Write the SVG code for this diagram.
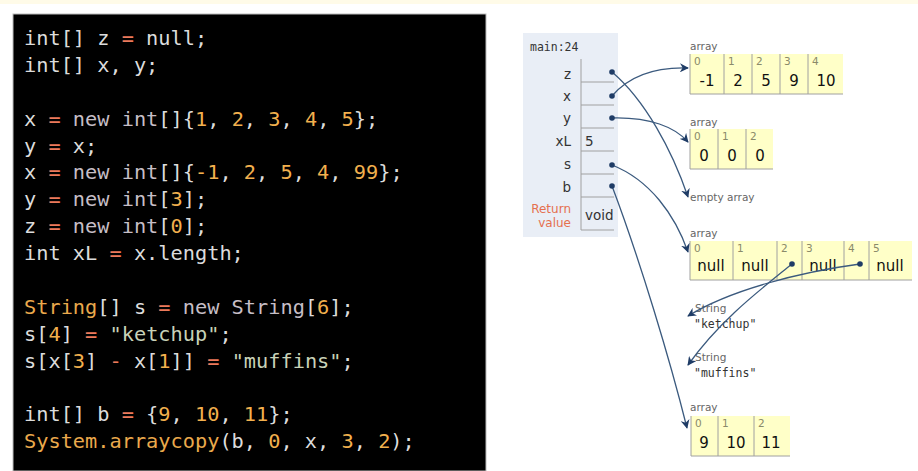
<svg xmlns="http://www.w3.org/2000/svg" width="918" height="471" viewBox="0 0 918 471">
<defs>
<marker id="ah" viewBox="0 0 10 10" refX="9" refY="5" markerWidth="9" markerHeight="9" markerUnits="userSpaceOnUse" orient="auto">
<path d="M0,0 L10,5 L0,10 L3,5 Z" fill="#1f3c66"/>
</marker>
<style>
.code{font-family:"DejaVu Sans Mono","Liberation Mono",monospace;font-size:20.3px;fill:#dcdcdc;white-space:pre}
.op{fill:#ec7a5c}
.kw{fill:#c6bec6}
.num{fill:#f2b04e}
.ty{fill:#eaa94c}
.str{fill:#c8d2b8}
.lbl{font-family:"DejaVu Sans",Verdana,sans-serif;font-size:13.5px;fill:#333}
.small{font-family:"DejaVu Sans",Verdana,sans-serif;font-size:10.5px;fill:#666}
.idx{font-family:"DejaVu Sans",Verdana,sans-serif;font-size:10.5px;fill:#8a8a6a}
.val{font-family:"DejaVu Sans",Verdana,sans-serif;font-size:15px;fill:#111;text-anchor:middle}
.mono{font-family:"DejaVu Sans Mono","Liberation Mono",monospace;font-size:11.5px;fill:#333}
.cell{fill:#ffffc8}
.bd{stroke:#a0a0a0;stroke-width:1;fill:none}
.conn{fill:none;stroke:#3b5a7e;stroke-width:1.3;marker-end:url(#ah)}
.dot{fill:#1f3c66}
</style>
</defs>
<rect x="0" y="0" width="918" height="471" fill="#ffffff"/>
<rect x="0" y="0" width="918" height="4" fill="#fffbe8"/>

<g id="code">
<rect x="13" y="14" width="473" height="457" fill="#000000" stroke="#bbbbbb" stroke-width="1"/>
<text class="code" x="24" y="45">int[] z <tspan class="op">=</tspan> null;</text>
<text class="code" x="24" y="72">int[] x, y;</text>
<text class="code" x="24" y="126">x <tspan class="op">=</tspan> <tspan class="kw">new int</tspan>[]{<tspan class="num">1</tspan>, <tspan class="num">2</tspan>, <tspan class="num">3</tspan>, <tspan class="num">4</tspan>, <tspan class="num">5</tspan>};</text>
<text class="code" x="24" y="153">y <tspan class="op">=</tspan> x;</text>
<text class="code" x="24" y="179">x <tspan class="op">=</tspan> <tspan class="kw">new int</tspan>[]{<tspan class="num">-1</tspan>, <tspan class="num">2</tspan>, <tspan class="num">5</tspan>, <tspan class="num">4</tspan>, <tspan class="num">99</tspan>};</text>
<text class="code" x="24" y="206">y <tspan class="op">=</tspan> <tspan class="kw">new int</tspan>[<tspan class="num">3</tspan>];</text>
<text class="code" x="24" y="233">z <tspan class="op">=</tspan> <tspan class="kw">new int</tspan>[<tspan class="num">0</tspan>];</text>
<text class="code" x="24" y="260">int xL <tspan class="op">=</tspan> x.length;</text>
<text class="code" x="24" y="314"><tspan class="ty">String</tspan>[] s <tspan class="op">=</tspan> <tspan class="kw">new String</tspan>[<tspan class="num">6</tspan>];</text>
<text class="code" x="24" y="341">s[<tspan class="num">4</tspan>] <tspan class="op">=</tspan> <tspan class="str">"ketchup"</tspan>;</text>
<text class="code" x="24" y="368">s[x[<tspan class="num">3</tspan>] <tspan class="op">-</tspan> x[<tspan class="num">1</tspan>]] <tspan class="op">=</tspan> <tspan class="str">"muffins"</tspan>;</text>
<text class="code" x="24" y="421">int[] b <tspan class="op">=</tspan> {<tspan class="num">9</tspan>, <tspan class="num">10</tspan>, <tspan class="num">11</tspan>};</text>
<text class="code" x="24" y="448"><tspan class="ty">System.arraycopy</tspan>(b, <tspan class="num">0</tspan>, x, <tspan class="num">3</tspan>, <tspan class="num">2</tspan>);</text>
</g>

<g id="frame">
<rect x="523" y="33" width="95" height="204" fill="#e9eef6"/>
<text class="mono" x="530" y="51">main:24</text>
<g class="lbl" text-anchor="end">
<text x="571" y="79">z</text>
<text x="571" y="101">x</text>
<text x="571" y="123">y</text>
<text x="571" y="146">xL</text>
<text x="571" y="169">s</text>
<text x="571" y="192">b</text>
</g>
<text class="lbl" x="571" y="213" text-anchor="end" style="fill:#e5704f;font-size:12px">Return</text>
<text class="lbl" x="571" y="227" text-anchor="end" style="fill:#e5704f;font-size:12px">value</text>
<path class="bd" d="M581,59 V82 H614 M581,82 V105 H614 M581,105 V128 H614 M581,128 V151 H614 M581,151 V174 H614 M581,174 V197 H614 M581,197 V230 H614"/>
<text class="lbl" x="585" y="146">5</text>
<text class="lbl" x="585" y="220">void</text>
</g>

<g id="array1">
<text class="small" x="690" y="50">array</text>
<rect class="cell" x="690" y="54" width="153" height="40"/>
<path class="bd" d="M690,54 V94 H843 M724,54 V94 M752,54 V94 M780,54 V94 M808,54 V94"/>
<text class="idx" x="694" y="65">0</text><text class="idx" x="728" y="65">1</text><text class="idx" x="756" y="65">2</text><text class="idx" x="784" y="65">3</text><text class="idx" x="812" y="65">4</text>
<text class="val" x="707" y="86">-1</text><text class="val" x="738" y="86">2</text><text class="val" x="766" y="86">5</text><text class="val" x="794" y="86">9</text><text class="val" x="826" y="86">10</text>
</g>

<g id="array2">
<text class="small" x="690" y="126">array</text>
<rect class="cell" x="690" y="129" width="83" height="40"/>
<path class="bd" d="M690,129 V169 H773 M718,129 V169 M746,129 V169"/>
<text class="idx" x="694" y="140">0</text><text class="idx" x="722" y="140">1</text><text class="idx" x="750" y="140">2</text>
<text class="val" x="704" y="161">0</text><text class="val" x="732" y="161">0</text><text class="val" x="760" y="161">0</text>
</g>

<g id="empty">
<text class="small" x="690" y="201">empty array</text>
</g>

<g id="array3">
<text class="small" x="690" y="237">array</text>
<rect class="cell" x="690" y="241" width="222" height="39"/>
<path class="bd" d="M690,241 V280 H912 M733,241 V280 M777,241 V280 M802,241 V280 M844,241 V280 M869,241 V280"/>
<text class="idx" x="694" y="252">0</text><text class="idx" x="737" y="252">1</text><text class="idx" x="781" y="252">2</text><text class="idx" x="806" y="252">3</text><text class="idx" x="848" y="252">4</text><text class="idx" x="873" y="252">5</text>
<text class="val" x="711" y="271">null</text><text class="val" x="755" y="271">null</text><text class="val" x="823" y="271">null</text><text class="val" x="890" y="271">null</text>
</g>

<g id="ketchup">
<text class="small" x="695" y="312">String</text>
<text class="mono" x="694" y="328">"ketchup"</text>
</g>

<g id="muffins">
<text class="small" x="695" y="361">String</text>
<text class="mono" x="694" y="377">"muffins"</text>
</g>

<g id="array4">
<text class="small" x="690" y="411">array</text>
<rect class="cell" x="691" y="416" width="99" height="40"/>
<path class="bd" d="M691,416 V456 H790 M718,416 V456 M754,416 V456"/>
<text class="idx" x="695" y="427">0</text><text class="idx" x="722" y="427">1</text><text class="idx" x="758" y="427">2</text>
<text class="val" x="704" y="448">9</text><text class="val" x="736" y="448">10</text><text class="val" x="771" y="448">11</text>
</g>

<g id="connectors">
<path class="conn" d="M612,72 C645,100 672,150 688,197"/>
<path class="conn" d="M612,96 C630,75 655,67 688,68"/>
<path class="conn" d="M612,118 C650,117 675,127 688,142"/>
<path class="conn" d="M612,165 C650,180 675,215 688,252"/>
<path class="conn" d="M612,186 C640,260 670,360 687,428"/>
<path class="conn" d="M860,264 C800,272 730,290 688,316"/>
<path class="conn" d="M792,264 C760,290 720,320 688,365"/>
<circle class="dot" cx="612" cy="72" r="2.8"/>
<circle class="dot" cx="612" cy="96" r="2.8"/>
<circle class="dot" cx="612" cy="118" r="2.8"/>
<circle class="dot" cx="612" cy="165" r="2.8"/>
<circle class="dot" cx="612" cy="186" r="2.8"/>
<circle class="dot" cx="792" cy="264" r="2.8"/>
<circle class="dot" cx="860" cy="264" r="2.8"/>
</g>
</svg>
